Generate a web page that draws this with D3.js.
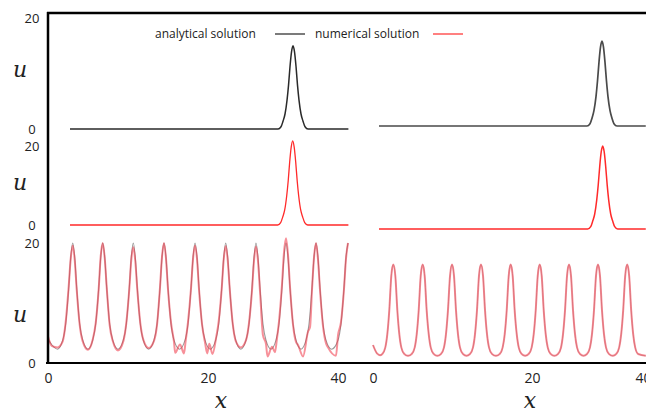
<!DOCTYPE html>
<html>
<head>
<meta charset="utf-8">
<script src="https://d3js.org/d3.v7.min.js"></script>
<style>
  body { margin: 0; background: #fff; }
  text { font-family: "Open Sans", sans-serif; fill: #222; }
  .lbl { font-family: "DejaVu Serif", serif; font-style: italic; font-size: 22px; }
</style>
</head>
<body>
<div id="chart"></div>
<script>
// tick labels
var xTicks = [0, 20, 40];
var uTicks = [0, 20];
var legendLabels = ['analytical solution', 'numerical solution'];

// top row, analytical soliton (black)
var tlX = [2.75, 30.77, 31.23, 31.54, 31.85, 32.16, 32.39, 32.62, 32.85, 33.08, 33.31, 33.54, 33.77, 34.0, 34.31, 34.62, 34.93, 35.39, 41.6];
var tlU = [0, 0, 0.4, 1.4, 2.7, 5.2, 7.9, 11.3, 13.9, 15.0, 13.9, 11.3, 7.9, 5.2, 2.7, 1.4, 0.4, 0, 0];
var trX = [0.75, 29.91, 30.45, 30.81, 31.17, 31.53, 31.80, 32.07, 32.34, 32.61, 32.88, 33.15, 33.42, 33.69, 34.05, 34.41, 34.77, 35.31, 40.5];
var trU = [0, 0, 0.4, 1.4, 2.8, 5.3, 8.1, 11.5, 14.2, 15.3, 14.2, 11.5, 8.1, 5.3, 2.8, 1.4, 0.4, 0, 0];

// middle row, numerical soliton (red)
var mlX = [2.75, 30.72, 31.18, 31.49, 31.8, 32.11, 32.34, 32.57, 32.8, 33.03, 33.26, 33.49, 33.72, 33.95, 34.26, 34.57, 34.88, 35.34, 41.6];
var mlU = [0, 0, 0.6, 2.0, 3.8, 7.4, 11.2, 16.0, 19.7, 21.3, 19.7, 16.0, 11.2, 7.4, 3.8, 2.0, 0.6, 0, 0];
var mrX = [0.75, 30.04, 30.58, 30.94, 31.30, 31.66, 31.93, 32.20, 32.47, 32.74, 33.01, 33.28, 33.55, 33.82, 34.18, 34.54, 34.90, 35.44, 40.5];
var mrU = [0, 0, 0.6, 2.0, 3.8, 7.3, 11.1, 15.8, 19.5, 21.0, 19.5, 15.8, 11.1, 7.3, 3.8, 2.0, 0.6, 0, 0];

// bottom left, periodic wave: analytical (gray)
var blX = [0, 0.5, 1.19,
  1.84, 2.21, 2.59, 2.84, 3.09, 3.34, 3.59, 3.96, 4.34, 5.0,
  5.59, 5.96, 6.34, 6.59, 6.84, 7.09, 7.34, 7.71, 8.09, 8.75,
  9.41, 9.79, 10.16, 10.41, 10.66, 10.91, 11.16, 11.54, 11.91, 12.58,
  13.25, 13.63, 14.0, 14.25, 14.5, 14.75, 15.0, 15.38, 15.75, 16.44,
  17.13, 17.5, 17.88, 18.13, 18.38, 18.63, 18.88, 19.25, 19.63, 20.35,
  21.18, 21.65, 22.11, 22.42, 22.72, 23.03, 23.34, 23.8, 24.26, 25.05,
  25.85, 26.31, 26.77, 27.08, 27.38, 27.69, 28.0, 28.46, 28.92, 29.69,
  30.46, 30.92, 31.38, 31.69, 32.0, 32.31, 32.62, 33.08, 33.54, 34.31,
  35.08, 35.54, 36.0, 36.31, 36.62, 36.92, 37.23, 37.69, 38.15, 39.0,
  40.0, 40.46, 40.92, 41.23, 41.54];
var blU = [4.0, 3.0, 2.3,
  3.8, 6.5, 12.5, 17.6, 20, 17.6, 12.5, 6.5, 3.8, 2.3,
  3.8, 6.5, 12.5, 17.6, 20, 17.6, 12.5, 6.5, 3.8, 2.3,
  3.8, 6.5, 12.5, 17.6, 20, 17.6, 12.5, 6.5, 3.8, 2.3,
  3.8, 6.5, 12.5, 17.6, 20, 17.6, 12.5, 6.5, 3.8, 2.3,
  3.8, 6.5, 12.5, 17.6, 20, 17.6, 12.5, 6.5, 3.8, 2.3,
  3.8, 6.5, 12.5, 17.6, 20, 17.6, 12.5, 6.5, 3.8, 2.3,
  3.8, 6.5, 12.5, 17.6, 20, 17.6, 12.5, 6.5, 3.8, 2.3,
  3.8, 6.5, 12.5, 17.6, 20, 17.6, 12.5, 6.5, 3.8, 2.3,
  3.8, 6.5, 12.5, 17.6, 20, 17.6, 12.5, 6.5, 3.8, 2.3,
  3.8, 6.5, 12.5, 17.6, 20];

// bottom left, numerical (red, with wiggles in the troughs)
var bnX = [0, 0.5, 1.19,
  1.84, 2.21, 2.59, 2.84, 3.09, 3.34, 3.59, 3.96, 4.34, 5.0,
  5.59, 5.96, 6.34, 6.59, 6.84, 7.09, 7.34, 7.71, 8.09, 8.75,
  9.41, 9.79, 10.16, 10.41, 10.66, 10.91, 11.16, 11.54, 11.91, 12.58,
  13.25, 13.63, 14.0, 14.25, 14.5, 14.75, 15.0, 15.38, 15.75, 15.9, 16.5, 17.0,
  17.2, 17.5, 17.88, 18.13, 18.38, 18.63, 18.88, 19.25, 19.63, 19.9, 20.2, 20.69, 21.23,
  21.65, 22.11, 22.42, 22.72, 23.03, 23.34, 23.8, 24.26, 25.05,
  25.85, 26.31, 26.77, 27.08, 27.38, 27.69, 28.0, 28.46, 28.92, 29.15, 29.85, 30.3,
  30.6, 30.92, 31.38, 31.69, 32.0, 32.31, 32.62, 33.08, 33.54, 33.85, 34.62, 35.38, 35.7,
  36.0, 36.31, 36.62, 36.92, 37.23, 37.69, 38.15, 38.46, 39.69,
  40.0, 40.46, 40.92, 41.23, 41.54];
var bnU = [4.4, 2.8, 2.6,
  3.6, 6.8, 12.8, 17.4, 19.6, 17.2, 12.2, 6.4, 3.6, 2.2,
  3.9, 6.6, 12.4, 17.8, 20.0, 17.5, 12.6, 6.3, 3.7, 2.1,
  3.6, 6.7, 12.3, 17.2, 19.3, 17.0, 12.3, 6.6, 3.9, 2.5,
  3.7, 6.4, 12.6, 17.7, 20.0, 17.4, 12.3, 6.7, 3.5, 1.7, 3.1, 1.6,
  3.6, 6.8, 12.5, 17.4, 19.6, 17.3, 12.2, 6.5, 3.4, 1.6, 3.2, 1.5, 4.1,
  7.0, 12.4, 17.3, 19.5, 17.2, 12.4, 6.6, 3.7, 2.6,
  3.8, 6.7, 12.1, 17.1, 19.4, 17.0, 12.0, 4.6, 3.2, 1.1, 2.7, 1.8,
  4.0, 6.9, 13.0, 18.4, 20.8, 18.0, 12.6, 6.4, 3.5, 3.0, 1.1, 5.2, 6.0,
  12.2, 17.6, 20.0, 17.3, 12.2, 6.2, 3.3, 2.6, 1.2,
  4.6, 6.8, 12.3, 17.4, 20.0];

// bottom right, periodic wave (numerical over analytical)
var brX = [0, 0.5, 0.88,
  1.17, 1.55, 1.80, 2.05, 2.30, 2.55, 2.81, 3.06, 3.31, 3.56, 3.94, 4.40,
  4.87, 5.25, 5.50, 5.75, 6.0, 6.25, 6.50, 6.75, 7.01, 7.26, 7.64, 8.09,
  8.55, 8.93, 9.18, 9.43, 9.69, 9.94, 10.19, 10.44, 10.69, 10.94, 11.32, 11.76,
  12.20, 12.58, 12.83, 13.08, 13.33, 13.58, 13.84, 14.09, 14.34, 14.59, 14.97, 15.45,
  15.94, 16.31, 16.57, 16.82, 17.07, 17.32, 17.57, 17.82, 18.08, 18.33, 18.70, 19.14,
  19.58, 19.96, 20.31, 20.67, 21.03, 21.39, 21.75, 22.11, 22.47, 22.83, 23.37, 24.04,
  24.68, 25.23, 25.59, 25.95, 26.31, 26.67, 27.03, 27.39, 27.75, 28.11, 28.65, 29.28,
  29.91, 30.45, 30.81, 31.17, 31.53, 31.89, 32.25, 32.61, 32.97, 33.33, 33.87, 34.56,
  35.17, 35.71, 36.07, 36.43, 36.79, 37.15, 37.51, 37.87, 38.23, 38.59, 39.13, 40.5];
var brU = [3.0, 1.6, 1.3,
  1.5, 2.6, 4.8, 8.8, 14.5, 16.4, 14.5, 8.8, 4.8, 2.6, 1.5, 1.2,
  1.5, 2.6, 4.8, 8.8, 14.5, 16.4, 14.5, 8.8, 4.8, 2.6, 1.5, 1.2,
  1.5, 2.6, 4.8, 8.8, 14.5, 16.4, 14.5, 8.8, 4.8, 2.6, 1.5, 1.2,
  1.5, 2.6, 4.8, 8.8, 14.5, 16.4, 14.5, 8.8, 4.8, 2.6, 1.5, 1.2,
  1.5, 2.6, 4.8, 8.8, 14.5, 16.4, 14.5, 8.8, 4.8, 2.6, 1.5, 1.2,
  1.5, 2.6, 4.8, 8.8, 14.5, 16.4, 14.5, 8.8, 4.8, 2.6, 1.5, 1.2,
  1.5, 2.6, 4.8, 8.8, 14.5, 16.4, 14.5, 8.8, 4.8, 2.6, 1.5, 1.2,
  1.5, 2.6, 4.8, 8.8, 14.5, 16.4, 14.5, 8.8, 4.8, 2.6, 1.5, 1.2,
  1.5, 2.6, 4.8, 8.8, 14.5, 16.4, 14.5, 8.8, 4.8, 2.6, 1.5, 1.2];

var width = 646, height = 412;

var svg = d3.select('#chart').append('svg')
  .attr('width', width)
  .attr('height', height);

// x scales (the picture's axis is not evenly spaced, so piecewise)
var xL = d3.scaleLinear().domain(xTicks).range([48, 208, 338]);
var xR = d3.scaleLinear().domain(xTicks).range([373, 532, 643]);

// one u scale per row and panel
var yL = [
  d3.scaleLinear().domain([0, 20]).range([129, 18]),
  d3.scaleLinear().domain([0, 20]).range([225, 146]),
  d3.scaleLinear().domain([0, 20]).range([363, 243])
];
var yR = [
  d3.scaleLinear().domain([0, 20]).range([126, 15]),
  d3.scaleLinear().domain([0, 20]).range([229, 150]),
  d3.scaleLinear().domain([0, 20]).range([363, 243])
];

function zipXY(xs, us) {
  return xs.map(function(x, i) { return [x, us[i]]; });
}

function drawCurve(xs, us, xs_, ys_, color, w, op) {
  var line = d3.line()
    .x(function(d) { return xs_(d[0]); })
    .y(function(d) { return ys_(d[1]); })
    .curve(d3.curveMonotoneX);
  svg.append('path')
    .datum(zipXY(xs, us))
    .attr('d', line)
    .attr('fill', 'none')
    .attr('stroke', color)
    .attr('stroke-width', w)
    .attr('stroke-opacity', op)
    .attr('stroke-linejoin', 'round');
}

// curves
drawCurve(tlX, tlU, xL, yL[0], '#2a2a2a', 1.5, 1);
drawCurve(trX, trU, xR, yR[0], '#4a4a4a', 1.7, 1);
drawCurve(mlX, mlU, xL, yL[1], '#ff2a2a', 1.3, 1);
drawCurve(mrX, mrU, xR, yR[1], '#ff2a2a', 1.5, 1);
drawCurve(blX, blU, xL, yL[2], '#9a9a9a', 1.1, 1);
drawCurve(bnX, bnU, xL, yL[2], '#f03545', 2, 0.55);
drawCurve(brX, brU, xR, yR[2], '#b0a0a0', 0.7, 1);
drawCurve(brX, brU, xR, yR[2], '#f03545', 2, 0.55);

// u axes on the left
yL.forEach(function(y) {
  var g = svg.append('g')
    .attr('transform', 'translate(48,0)')
    .call(d3.axisLeft(y).tickValues(uTicks).tickSize(0).tickPadding(0));
  g.select('.domain').remove();
  g.selectAll('text')
    .attr('x', -16)
    .style('text-anchor', 'middle')
    .style('font-size', '13px')
    .style('font-family', '"Open Sans", sans-serif')
    .style('fill', '#222');
});

// x axes
[xL, xR].forEach(function(x) {
  var g = svg.append('g')
    .attr('transform', 'translate(0,363)')
    .call(d3.axisBottom(x).tickValues(xTicks).tickSize(0).tickPadding(10));
  g.select('.domain').remove();
  g.selectAll('text')
    .style('font-size', '14px')
    .style('font-family', '"Open Sans", sans-serif')
    .style('fill', '#222');
});

// frame
svg.append('line').attr('x1', 48).attr('x2', 48).attr('y1', 12).attr('y2', 364)
  .attr('stroke', '#000').attr('stroke-width', 2.5);
svg.append('line').attr('x1', 47).attr('x2', 646).attr('y1', 13).attr('y2', 13)
  .attr('stroke', '#000').attr('stroke-width', 2.5);
svg.append('line').attr('x1', 46).attr('x2', 646).attr('y1', 363).attr('y2', 363)
  .attr('stroke', '#000').attr('stroke-width', 2);

// axis titles
[77, 190, 322].forEach(function(yy) {
  svg.append('text').attr('class', 'lbl')
    .attr('x', 20).attr('y', yy)
    .attr('text-anchor', 'middle')
    .text('u');
});
[221, 530].forEach(function(xx) {
  svg.append('text').attr('class', 'lbl')
    .attr('x', xx).attr('y', 408)
    .attr('text-anchor', 'middle')
    .text('x');
});

// legend
svg.append('text').attr('x', 155).attr('y', 38).style('font-size', '12px').text(legendLabels[0]);
svg.append('line').attr('x1', 275).attr('x2', 305).attr('y1', 34).attr('y2', 34)
  .attr('stroke', '#222').attr('stroke-width', 1.2);
svg.append('text').attr('x', 315).attr('y', 38).style('font-size', '12px').text(legendLabels[1]);
svg.append('line').attr('x1', 433).attr('x2', 463).attr('y1', 34).attr('y2', 34)
  .attr('stroke', '#ff2a2a').attr('stroke-width', 1.2);
</script>
</body>
</html>
